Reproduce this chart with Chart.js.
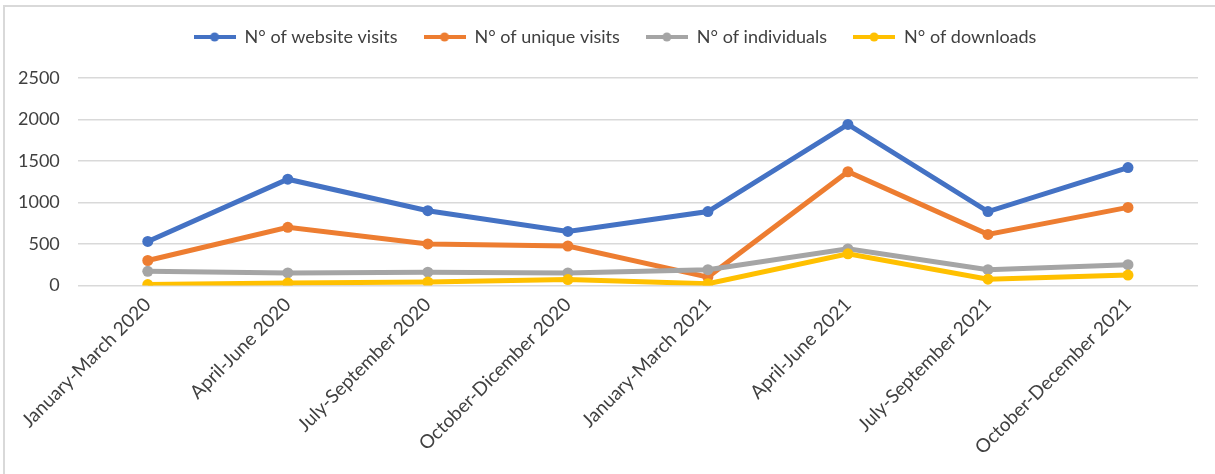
<!DOCTYPE html>
<html>
<head>
<meta charset="utf-8">
<script src="https://cdn.jsdelivr.net/npm/chart.js@4/dist/chart.umd.min.js"></script>
<style>
  html, body { margin: 0; padding: 0; background: #fff; }
  #frame { position: absolute; left: 3px; top: 5px; width: 1220px; height: 480px;
           border-left: 2px solid #d9d9d9; border-top: 2px solid #d9d9d9; box-sizing: border-box; }
  #wrap { position: absolute; left: 0; top: 0; width: 1215px; height: 474px; }
</style>
</head>
<body>
<div id="frame"></div>
<div id="wrap"><canvas id="c" width="1215" height="474"></canvas></div>
<script>
const categories = ["January-March 2020", "April-June 2020", "July-September 2020", "October-Dicember 2020",
                    "January-March 2021", "April-June 2021", "July-September 2021", "October-December 2021"];
const websiteVisits = [530, 1280, 900, 650, 890, 1940, 890, 1420];
const uniqueVisits  = [300, 700, 500, 475, 100, 1370, 615, 940];
const individuals   = [170, 150, 160, 150, 190, 440, 190, 250];
const downloads     = [10, 30, 40, 70, 20, 380, 75, 125];
const yTicks = [0, 500, 1000, 1500, 2000, 2500];
const seriesNames = ["N° of website visits", "N° of unique visits", "N° of individuals", "N° of downloads"];
const colors = ["#4472C4", "#ED7D31", "#A5A5A5", "#FFC000"];

function legendIcon(color) {
  const cv = document.createElement('canvas');
  cv.width = 42; cv.height = 12;
  const g = cv.getContext('2d');
  g.strokeStyle = color; g.lineWidth = 4; g.lineCap = 'butt';
  g.beginPath(); g.moveTo(0, 6); g.lineTo(42, 6); g.stroke();
  g.fillStyle = color; g.beginPath(); g.arc(21, 6, 4.5, 0, Math.PI * 2); g.fill();
  return cv;
}

const seriesData = [websiteVisits, uniqueVisits, individuals, downloads];
const datasets = seriesData.map((d, i) => ({
  label: seriesNames[i],
  data: d,
  borderColor: colors[i],
  backgroundColor: colors[i],
  pointBackgroundColor: colors[i],
  pointBorderColor: colors[i],
  borderWidth: 5,
  pointRadius: 5.5,
  pointBorderWidth: 0,
  pointStyle: 'circle',
  tension: 0,
  order: 4 - i
}));

const FONT = "Lato, 'Open Sans', sans-serif";

const legendMargin = {
  id: 'legendMargin',
  beforeInit(chart) {
    const fit = chart.legend.fit;
    chart.legend.fit = function () { fit.bind(chart.legend)(); this.height += 22; };
  },
  afterLayout(chart) {
    chart.legend.left += 16;
    chart.legend.right += 16;
  }
};

new Chart(document.getElementById('c'), {
  type: 'line',
  data: { labels: categories, datasets: datasets },
  plugins: [legendMargin],
  options: {
    responsive: false,
    animation: false,
    layout: { padding: { left: 0, right: 17, top: 2, bottom: 7 } },
    plugins: {
      legend: {
        position: 'top',
        labels: {
          usePointStyle: true,
          pointStyleWidth: 42,
          color: '#404040',
          font: { family: FONT, size: 18 },
          padding: 26,
          sort: (a, b) => a.datasetIndex - b.datasetIndex,
          generateLabels: (chart) => chart.data.datasets.map((ds, i) => ({
            text: ds.label,
            fillStyle: ds.borderColor,
            strokeStyle: ds.borderColor,
            lineWidth: 0,
            pointStyle: legendIcon(ds.borderColor),
            datasetIndex: i,
            hidden: false,
            fontColor: '#404040'
          }))
        }
      },
      tooltip: { enabled: false }
    },
    scales: {
      x: {
        offset: true,
        grid: { display: false, drawTicks: false },
        border: { display: false },
        ticks: { color: '#404040', font: { family: FONT, size: 19 }, minRotation: 45, maxRotation: 45, padding: 8, autoSkip: false }
      },
      y: {
        min: 0, max: 2500,
        afterBuildTicks: (axis) => { axis.ticks = yTicks.map(v => ({ value: v })); },
        grid: { color: '#d9d9d9', lineWidth: 1.5, drawTicks: false },
        border: { display: false },
        ticks: { color: '#404040', font: { family: FONT, size: 18 }, padding: 18, callback: (v) => String(v) }
      }
    }
  }
});
</script>
</body>
</html>
